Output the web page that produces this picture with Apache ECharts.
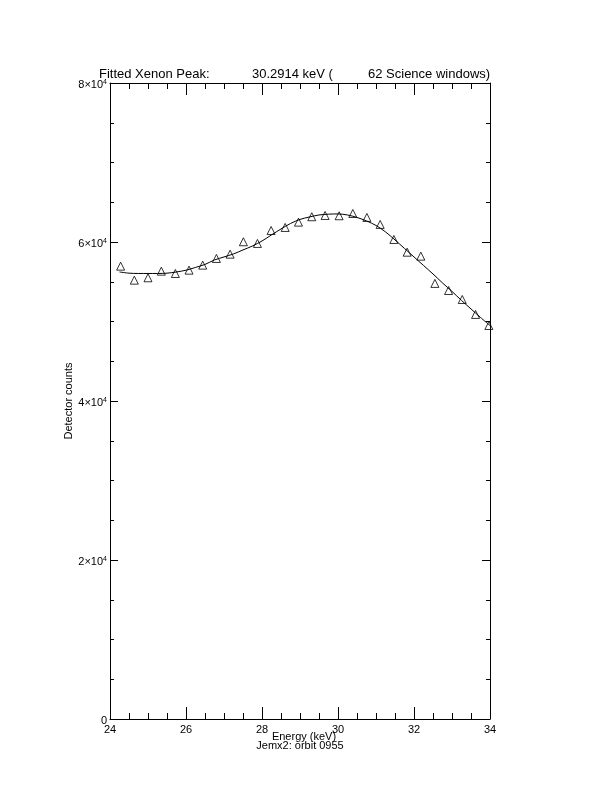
<!DOCTYPE html>
<html>
<head>
<meta charset="utf-8">
<script src="https://cdn.jsdelivr.net/npm/echarts@6/dist/echarts.min.js"></script>
<style>
html,body{margin:0;padding:0;background:#fff;}
#c{width:612px;height:792px;}
</style>
</head>
<body>
<div id="c"></div>
<script>
// Measured points (triangles)
const pointEnergy = [24.28,24.64,25.00,25.35,25.72,26.08,26.44,26.80,27.16,27.51,27.88,28.24,28.61,28.96,29.31,29.66,30.03,30.39,30.76,31.11,31.47,31.82,32.18,32.55,32.91,33.27,33.62,33.97];
const pointCounts = [56960,55200,55500,56330,56040,56460,57090,57930,58470,60030,59820,61450,61830,62500,63180,63340,63300,63590,63090,62210,60320,58720,58220,54790,53900,52770,50890,49500];
// Fitted curve
const fitEnergy = [24.25,24.5,24.75,25,25.25,25.5,25.75,26,26.25,26.5,26.75,27,27.25,27.5,27.75,28,28.25,28.5,28.75,29,29.25,29.5,29.75,30,30.25,30.5,30.75,31,31.25,31.5,31.75,32,32.25,32.5,32.75,33,33.25,33.5,33.75,34];
const fitCounts = [56230,56080,56040,56040,56040,56080,56230,56450,56800,57180,57740,58120,58500,59000,59500,60130,60890,61640,62330,62840,63150,63400,63500,63530,63400,63090,62650,62080,61270,60260,59190,58120,57050,55980,54850,53780,52650,51580,50510,49500];
const xTicks = [24,26,28,30,32,34];
const yTicks = [0,20000,40000,60000,80000];
const titleParts = ["Fitted Xenon Peak:", "30.2914 keV (", "62 Science windows)"];
const xTitle = "Energy (keV)";
const subTitle = "Jemx2: orbit 0955";
const yTitle = "Detector counts";

const font = "Liberation Sans";
const chart = echarts.init(document.getElementById('c'), null, {renderer:'canvas'});

function yFmt(v){
  if (v === 0) return '0';
  return '{a|' + (v/10000) + '×10}{s|4}';
}
const tStyle = {fontFamily:font, fontSize:13, fontWeight:'normal', color:'#000'};
const sStyle = {fontFamily:font, fontSize:11, fontWeight:'normal', color:'#000'};
const option = {
  backgroundColor:'#fff',
  animation:false,
  title:[
    {text:titleParts[0], left:99, top:68, padding:0, textStyle:tStyle},
    {text:titleParts[1], left:252, top:68, padding:0, textStyle:tStyle},
    {text:titleParts[2], left:368, top:68, padding:0, textStyle:tStyle},
    {text:xTitle, left:304, top:731, padding:0, textAlign:'center', textStyle:sStyle},
    {text:subTitle, left:300, top:740, padding:0, textAlign:'center', textStyle:sStyle}
  ],
  grid:{left:110, right:122, top:83, bottom:73, containLabel:false},
  xAxis:[
    {type:'value', min:xTicks[0], max:xTicks[xTicks.length-1], interval:2, position:'bottom',
     axisLine:{show:true, onZero:false, lineStyle:{color:'#000', width:1}},
     axisTick:{show:true, inside:true, length:12, lineStyle:{color:'#000'}},
     minorTick:{show:true, splitNumber:4, length:6, lineStyle:{color:'#000'}},
     axisLabel:{fontFamily:font, fontSize:11, color:'#000', margin:5},
     splitLine:{show:false}},
    {type:'value', min:xTicks[0], max:xTicks[xTicks.length-1], interval:2, position:'top',
     axisLine:{show:true, onZero:false, lineStyle:{color:'#000', width:1}},
     axisTick:{show:true, inside:true, length:12, lineStyle:{color:'#000'}},
     minorTick:{show:true, splitNumber:4, length:6, lineStyle:{color:'#000'}},
     axisLabel:{show:false}, splitLine:{show:false}}
  ],
  yAxis:[
    {type:'value', min:yTicks[0], max:yTicks[yTicks.length-1], interval:20000, position:'left',
     name:yTitle, nameLocation:'middle', nameGap:36, nameRotate:90, nameMoveOverlap:false,
     nameTextStyle:{fontFamily:font, fontSize:11, color:'#000'},
     axisLine:{show:true, onZero:false, lineStyle:{color:'#000', width:1}},
     axisTick:{show:true, inside:true, length:8, lineStyle:{color:'#000'}},
     minorTick:{show:true, splitNumber:4, length:4, lineStyle:{color:'#000'}},
     axisLabel:{fontFamily:font, fontSize:11, color:'#000', margin:3, formatter:yFmt, padding:[4,0,0,0],
       rich:{a:{fontFamily:font, fontSize:11, color:'#000'}, s:{fontFamily:font, fontSize:7, color:'#000', verticalAlign:'top', padding:[0,0,6,0]}}},
     splitLine:{show:false}},
    {type:'value', min:yTicks[0], max:yTicks[yTicks.length-1], interval:20000, position:'right',
     axisLine:{show:true, onZero:false, lineStyle:{color:'#000', width:1}},
     axisTick:{show:true, inside:true, length:8, lineStyle:{color:'#000'}},
     minorTick:{show:true, splitNumber:4, length:4, lineStyle:{color:'#000'}},
     axisLabel:{show:false}, splitLine:{show:false}}
  ],
  series:[
    {type:'line', name:'fit', data:fitEnergy.map((e,i)=>[e, fitCounts[i]]),
     smooth:0.3, showSymbol:false, symbol:'none',
     lineStyle:{color:'#000', width:1}, silent:true, z:2},
    {type:'scatter', name:'data', data:pointEnergy.map((e,i)=>[e, pointCounts[i]]),
     symbol:'triangle', symbolSize:[8,8],
     itemStyle:{color:'rgba(255,255,255,0)', borderColor:'#000', borderWidth:1}, z:3}
  ]
};
chart.setOption(option);
</script>
</body>
</html>
